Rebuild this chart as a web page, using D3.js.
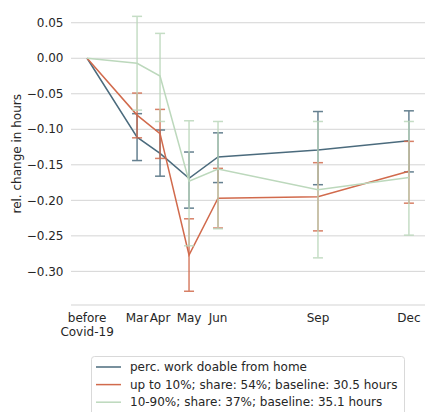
<!DOCTYPE html>
<html>
<head>
<meta charset="utf-8">
<script src="https://cdn.jsdelivr.net/npm/d3@7"></script>
<style>
  body { margin: 0; background: #fff; }
  text { font-family: "DejaVu Sans", sans-serif; fill: #262626; }
</style>
</head>
<body>
<svg id="chart" width="425" height="412"></svg>
<script>
// survey waves
let waveLabels = ["before\nCovid-19", "Mar", "Apr", "May", "Jun", "Sep", "Dec"]
let waveDates = ["2020-02-01", "2020-03-22", "2020-04-14", "2020-05-13", "2020-06-11", "2020-09-19", "2020-12-19"]

// perc. work doable from home
let allMean = [0, -0.111, -0.134, -0.169, -0.139, -0.129, -0.116]
let allLow  = [null, -0.144, -0.166, -0.211, -0.175, -0.178, -0.160]
let allHigh = [null, -0.078, -0.101, -0.132, -0.105, -0.075, -0.074]

// up to 10%
let lowMean = [0, -0.080, -0.106, -0.277, -0.197, -0.195, -0.159]
let lowLow  = [null, -0.112, -0.141, -0.328, -0.239, -0.243, -0.204]
let lowHigh = [null, -0.049, -0.072, -0.226, -0.155, -0.147, -0.117]

// 10-90%
let midMean = [0, -0.007, -0.025, -0.173, -0.156, -0.185, -0.168]
let midLow  = [null, -0.073, -0.089, -0.264, -0.240, -0.281, -0.249]
let midHigh = [null, 0.059, 0.035, -0.088, -0.089, -0.089, -0.089]

let yTicks = [0.05, 0, -0.05, -0.10, -0.15, -0.20, -0.25, -0.30]

let series = [
    { name: "perc. work doable from home", color: "#4b6b7d", mean: allMean, lo: allLow, hi: allHigh },
    { name: "up to 10%; share: 54%; baseline: 30.5 hours", color: "#d16a4c", mean: lowMean, lo: lowLow, hi: lowHigh },
    { name: "10-90%; share: 37%; baseline: 35.1 hours", color: "#bcd8bc", mean: midMean, lo: midLow, hi: midHigh }
]

let parse = d3.timeParse("%Y-%m-%d")
let dates = waveDates.map(parse)

let svg = d3.select("#chart")
let plotL = 71, plotR = 425, plotT = 2.6, plotB = 305
let fs = "12px"

// matplotlib-like 5% margins
let t0 = dates[0].getTime(), t1 = dates[dates.length - 1].getTime()
let pad = (t1 - t0) * 0.05
let x = d3.scaleTime()
    .domain([new Date(t0 - pad), new Date(t1 + pad)])
    .range([plotL, plotR])

let allVals = series.flatMap(s => s.mean.concat(s.lo, s.hi)).filter(v => v != null)
let ymin = d3.min(allVals), ymax = d3.max(allVals)
let ypad = (ymax - ymin) * 0.05
let y = d3.scaleLinear()
    .domain([ymin - ypad, ymax + ypad])
    .range([plotB, plotT])

// grid
svg.append("g")
    .selectAll("line")
    .data(yTicks)
    .join("line")
    .attr("x1", plotL).attr("x2", plotR)
    .attr("y1", d => y(d)).attr("y2", d => y(d))
    .attr("stroke", "#d4d4d4")
    .attr("stroke-width", 1)

// bottom spine
svg.append("line")
    .attr("x1", plotL).attr("x2", plotR)
    .attr("y1", plotB).attr("y2", plotB)
    .attr("stroke", "#d4d4d4")
    .attr("stroke-width", 1.2)

// y tick labels
let fmt = d3.format(".2f")
svg.append("g")
    .selectAll("text")
    .data(yTicks)
    .join("text")
    .attr("x", 63.5)
    .attr("y", d => y(d))
    .attr("dy", "0.35em")
    .attr("text-anchor", "end")
    .style("font-size", fs)
    .text(d => fmt(d))

// y label
svg.append("text")
    .attr("transform", "translate(17," + ((plotT + plotB) / 2) + ") rotate(-90)")
    .attr("dy", "0.35em")
    .attr("text-anchor", "middle")
    .style("font-size", fs)
    .text("rel. change in hours")

// x tick labels
let xl = svg.append("g")
    .selectAll("text")
    .data(waveLabels)
    .join("text")
    .attr("text-anchor", "middle")
    .style("font-size", fs)
    .attr("y", 322)
xl.each(function(d, i){
    let lines = d.split("\n")
    d3.select(this).selectAll("tspan")
        .data(lines)
        .join("tspan")
        .attr("x", x(dates[i]))
        .attr("dy", (l, j) => j == 0 ? 0 : "1.13em")
        .text(l => l)
})

// series
let line = d3.line()
    .x((d, i) => x(dates[i]))
    .y(d => y(d))

series.forEach(function(s){
    let g = svg.append("g")
    let bars = s.mean.map((m, i) => ({ i: i, lo: s.lo[i], hi: s.hi[i] })).filter(d => d.lo != null)

    let eb = g.append("g").attr("stroke", s.color).attr("stroke-width", 1.5).attr("opacity", 0.85)
    eb.selectAll(".v").data(bars).join("line")
        .attr("class", "v")
        .attr("x1", d => x(dates[d.i])).attr("x2", d => x(dates[d.i]))
        .attr("y1", d => y(d.lo)).attr("y2", d => y(d.hi))
    eb.selectAll(".cl").data(bars).join("line")
        .attr("class", "cl")
        .attr("x1", d => x(dates[d.i]) - 5).attr("x2", d => x(dates[d.i]) + 5)
        .attr("y1", d => y(d.lo)).attr("y2", d => y(d.lo))
    eb.selectAll(".ch").data(bars).join("line")
        .attr("class", "ch")
        .attr("x1", d => x(dates[d.i]) - 5).attr("x2", d => x(dates[d.i]) + 5)
        .attr("y1", d => y(d.hi)).attr("y2", d => y(d.hi))

    g.append("path")
        .datum(s.mean)
        .attr("d", line)
        .attr("fill", "none")
        .attr("stroke", s.color)
        .attr("stroke-width", 1.5)
})

// legend
let lg = svg.append("g")
lg.append("rect")
    .attr("x", 91.5).attr("y", 356.5)
    .attr("width", 313).attr("height", 70)
    .attr("rx", 3)
    .attr("fill", "#fff").attr("fill-opacity", 0.8)
    .attr("stroke", "#d9d9d9")

series.forEach(function(s, i){
    let ly = 367 + i * 17.6
    lg.append("line")
        .attr("x1", 96).attr("x2", 121)
        .attr("y1", ly).attr("y2", ly)
        .attr("stroke", s.color)
        .attr("stroke-width", 1.5)
    lg.append("text")
        .attr("x", 130).attr("y", ly)
        .attr("dy", "0.35em")
        .style("font-size", fs)
        .text(s.name)
})
</script>
</body>
</html>
